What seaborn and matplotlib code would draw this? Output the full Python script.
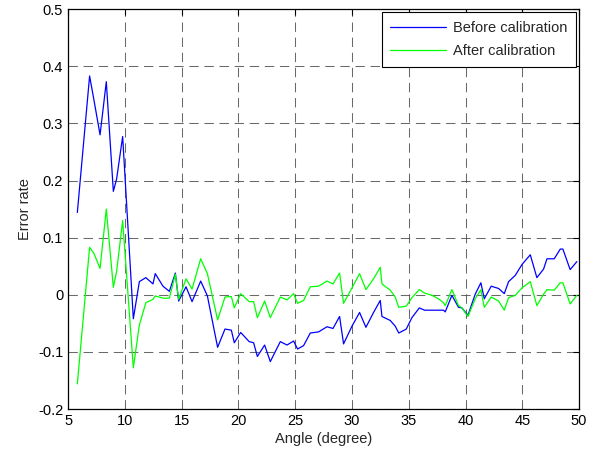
import numpy as np
import pandas as pd
import matplotlib
matplotlib.use("Agg")
import matplotlib.pyplot as plt
import seaborn as sns

# angle samples (degree) and error rates
angle = [5.82, 6.90, 7.29, 7.82, 8.37, 8.99, 9.28, 9.81, 10.75, 11.28,
         11.85, 12.48, 12.68, 13.36, 13.92, 14.45, 14.74, 15.39, 15.92, 16.68,
         17.27, 18.17, 18.82, 19.38, 19.64, 20.20, 20.95, 21.34, 21.67, 22.31,
         22.81, 23.69, 24.28, 24.86, 25.21, 25.74, 26.33, 27.06, 27.80, 28.33,
         28.91, 29.26, 30.00, 30.67, 31.23, 31.90, 32.49, 32.64, 33.37, 33.81,
         34.12, 34.78, 35.28, 35.93, 36.39, 37.04, 37.61, 38.06, 38.21, 38.80,
         39.38, 39.68, 40.21, 40.85, 41.35, 41.65, 42.26, 42.91, 43.41, 43.79,
         44.38, 44.97, 45.70, 46.28, 46.87, 47.17, 47.81, 48.34, 48.57, 49.21,
         49.80]

before = [0.144, 0.383, 0.340, 0.280, 0.373, 0.181, 0.203, 0.277, -0.042, 0.023,
          0.030, 0.019, 0.037, 0.015, 0.006, 0.038, -0.011, 0.014, -0.012, 0.024,
          -0.002, -0.092, -0.060, -0.062, -0.084, -0.066, -0.082, -0.084, -0.108, -0.088,
          -0.117, -0.082, -0.088, -0.081, -0.095, -0.089, -0.067, -0.065, -0.056, -0.059,
          -0.038, -0.086, -0.055, -0.031, -0.057, -0.031, -0.010, -0.038, -0.045, -0.055,
          -0.067, -0.060, -0.040, -0.023, -0.027, -0.027, -0.027, -0.027, -0.030, -0.001,
          -0.022, -0.023, -0.036, 0.001, 0.021, -0.007, 0.015, 0.011, 0.002, 0.023,
          0.034, 0.053, 0.070, 0.030, 0.045, 0.063, 0.063, 0.080, 0.080, 0.044,
          0.058]

after = [-0.156, 0.083, 0.072, 0.046, 0.150, 0.013, 0.041, 0.130, -0.128, -0.053,
         -0.014, -0.008, -0.002, -0.006, -0.006, 0.036, -0.008, 0.028, 0.010, 0.063,
         0.037, -0.044, -0.004, -0.003, -0.023, 0.002, -0.012, -0.012, -0.040, -0.011,
         -0.040, -0.004, -0.009, 0.002, -0.015, -0.010, 0.014, 0.015, 0.024, 0.019,
         0.038, -0.015, 0.012, 0.037, 0.009, 0.028, 0.048, 0.019, 0.008, -0.004,
         -0.022, -0.020, -0.005, 0.009, 0.003, -0.001, -0.007, -0.014, -0.019, 0.009,
         -0.019, -0.023, -0.038, -0.007, 0.009, -0.022, -0.004, -0.011, -0.027, -0.005,
         -0.001, 0.012, 0.023, -0.019, 0.001, 0.009, 0.008, 0.021, 0.021, -0.016,
         -0.001]

x_ticks = [5, 10, 15, 20, 25, 30, 35, 40, 45, 50]
y_ticks = [-0.2, -0.1, 0, 0.1, 0.2, 0.3, 0.4, 0.5]
y_labels = ["-0.2", "-0.1", "0", "0.1", "0.2", "0.3", "0.4", "0.5"]

df = pd.DataFrame({
    "angle": angle * 2,
    "error": before + after,
    "series": ["Before calibration"] * len(angle) + ["After calibration"] * len(angle),
})

sns.set_style("white")
plt.rcParams["font.family"] = ["Liberation Sans", "DejaVu Sans"]

fig = plt.figure(figsize=(6.02, 4.57), dpi=100)
ax = fig.add_axes([0.113, 0.105, 0.849, 0.875])

sns.lineplot(data=df, x="angle", y="error", hue="series",
             palette={"Before calibration": "#0000ff", "After calibration": "#00ff00"},
             linewidth=0.9, ax=ax, sort=False, estimator=None)

ax.set_xlim(5, 50)
ax.set_ylim(-0.2, 0.5)
ax.set_xticks(x_ticks)
ax.set_yticks(y_ticks)
ax.set_yticklabels(y_labels)
ax.grid(True, color="#444444", linestyle=(0, (9, 5.5)), linewidth=0.75, alpha=0.8)
ax.tick_params(direction="in", length=4, width=0.8, labelsize=10.5,
               top=True, right=True, colors="black")
for s in ax.spines.values():
    s.set_color("black")
    s.set_linewidth(0.9)

ax.set_xlabel("Angle (degree)", fontsize=10.5, labelpad=3)
ax.set_ylabel("Error rate", fontsize=10.5)

leg = ax.legend(loc="upper right", fontsize=10.5, fancybox=False, framealpha=1,
                edgecolor="black", borderaxespad=0.2, handlelength=3.8,
                borderpad=0.6, labelspacing=0.65, handletextpad=0.5)
leg.get_frame().set_linewidth(0.8)

fig.savefig("out.png", dpi=100)
